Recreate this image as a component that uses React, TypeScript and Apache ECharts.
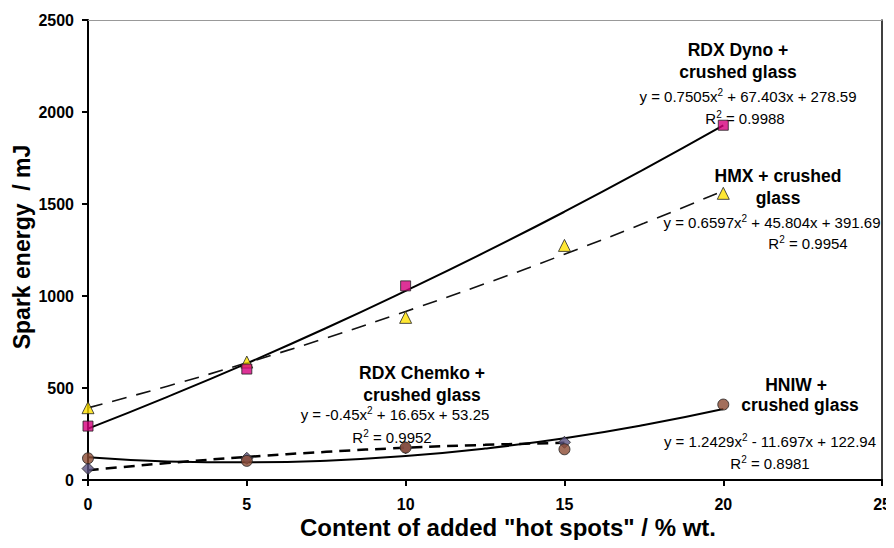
import React, { useEffect, useRef } from "react";
import * as echarts from "echarts";

// Measured points (x = content of hot spots / % wt., y = spark energy / mJ)
const dynoX = [0, 5, 10, 20];
const dynoY = [293, 603, 1055, 1928];
const hmxX = [0, 5, 10, 15, 20];
const hmxY = [393, 641, 884, 1275, 1558];
const chemkoX = [0, 5, 10, 15];
const chemkoY = [62, 118, 175, 205];
const hniwX = [0, 5, 10, 15, 20];
const hniwY = [118, 104, 176, 167, 410];

// Trend lines
const trendX = [0, 2.5, 5, 7.5, 10, 12.5, 15, 17.5, 20];
const dynoTrend = [279, 452, 634, 826, 1028, 1238, 1458, 1688, 1927];
const hmxTrend = [392, 510, 637, 772, 916, 1067, 1227, 1395, 1572];
const chemkoTrendX = [0, 2.5, 5, 7.5, 10, 12.5, 15];
const chemkoTrend = [53, 92, 125, 153, 175, 191, 202];
const hniwTrend = [123, 101, 96, 105, 130, 171, 227, 299, 386];

const xTicks = { min: 0, max: 25, interval: 5 };
const yTicks = { min: 0, max: 2500, interval: 500 };

const FONT = "'Liberation Sans', Arial, Helvetica, sans-serif";

const zip = (xs: number[], ys: number[]) => xs.map((x, i) => [x, ys[i]]);

export default function App() {
  const ref = useRef<HTMLDivElement>(null);
  useEffect(() => {
    if (!ref.current) return;
    const chart = echarts.init(ref.current, null, { renderer: "svg" });
    const title = (text: string, x: number, y: number) => ({
      type: "text",
      x,
      y,
      style: {
        text,
        font: `bold 17.5px ${FONT}`,
        fill: "#000",
        align: "center",
        verticalAlign: "middle",
      },
    });
    const eq = (text: string, x: number, y: number) => ({
      type: "text",
      x,
      y,
      style: {
        text,
        fontFamily: FONT,
        fontSize: 15,
        fill: "#000",
        align: "center",
        verticalAlign: "middle",
        rich: {
          s: { fontFamily: FONT, fontSize: 10, verticalAlign: "top", padding: [0, 0, 8, 0] },
        },
      },
    });
    const markerStyle = (color: string) => ({ color, borderColor: "#222", borderWidth: 1 });
    chart.setOption({
      animation: false,
      backgroundColor: "#fff",
      grid: { left: 88, right: 11, top: 20, bottom: 68, show: false },
      xAxis: [
        {
          type: "value",
          ...xTicks,
          axisLine: { show: true, lineStyle: { color: "#000", width: 2 } },
          axisTick: { show: true, inside: false, length: 6, lineStyle: { color: "#000", width: 2 } },
          axisLabel: { margin: 16, color: "#000", fontFamily: FONT, fontWeight: "bold", fontSize: 16 },
          splitLine: { show: false },
        },
        {
          type: "value",
          position: "top",
          ...xTicks,
          axisLine: { show: true, onZero: false, lineStyle: { color: "#999", width: 1 } },
          axisTick: { show: false },
          axisLabel: { show: false },
          splitLine: { show: false },
        },
      ],
      yAxis: [
        {
          type: "value",
          ...yTicks,
          axisLine: { show: true, lineStyle: { color: "#000", width: 2 } },
          axisTick: { show: true, inside: false, length: 6, lineStyle: { color: "#000", width: 2 } },
          axisLabel: {
            margin: 14,
            color: "#000",
            fontFamily: FONT,
            fontWeight: "bold",
            fontSize: 16,
            formatter: (v: number) => String(v),
          },
          splitLine: { show: false },
        },
        {
          type: "value",
          position: "right",
          ...yTicks,
          axisLine: { show: true, onZero: false, lineStyle: { color: "#000", width: 1.5 } },
          axisTick: { show: false },
          axisLabel: { show: false },
          splitLine: { show: false },
        },
      ],
      series: [
        {
          type: "line",
          data: zip(trendX, dynoTrend),
          smooth: true,
          symbol: "none",
          lineStyle: { color: "#000", width: 2 },
          z: 2,
        },
        {
          type: "line",
          data: zip(trendX, hmxTrend),
          smooth: true,
          symbol: "none",
          lineStyle: { color: "#111", width: 1.6, type: [15, 10] },
          z: 2,
        },
        {
          type: "line",
          data: zip(chemkoTrendX, chemkoTrend),
          smooth: true,
          symbol: "none",
          lineStyle: { color: "#000", width: 2.5, type: [11, 7] },
          z: 2,
        },
        {
          type: "line",
          data: zip(trendX, hniwTrend),
          smooth: true,
          symbol: "none",
          lineStyle: { color: "#000", width: 2 },
          z: 2,
        },
        {
          type: "scatter",
          data: zip(chemkoX, chemkoY),
          symbol: "diamond",
          symbolSize: 12,
          itemStyle: markerStyle("#5c5482"),
          z: 3,
        },
        {
          type: "scatter",
          data: zip(hniwX, hniwY),
          symbol: "circle",
          symbolSize: 11,
          itemStyle: markerStyle("#8c4b33"),
          z: 4,
        },
        {
          type: "scatter",
          data: zip(hmxX, hmxY),
          symbol: "triangle",
          symbolSize: 12,
          itemStyle: markerStyle("#ffe100"),
          z: 3,
        },
        {
          type: "scatter",
          data: zip(dynoX, dynoY),
          symbol: "rect",
          symbolSize: 10,
          itemStyle: markerStyle("#d6007d"),
          z: 4,
        },
      ],
      graphic: [
        {
          type: "text",
          x: 22,
          y: 247,
          rotation: Math.PI / 2,
          style: {
            text: "Spark energy  / mJ",
            font: `bold 23px ${FONT}`,
            fill: "#000",
            align: "center",
            verticalAlign: "middle",
          },
        },
        {
          type: "text",
          x: 508,
          y: 527,
          style: {
            text: 'Content of added "hot spots" / % wt.',
            font: `bold 24px ${FONT}`,
            fill: "#000",
            align: "center",
            verticalAlign: "middle",
          },
        },
        title("RDX Dyno +", 738, 50),
        title("crushed glass", 738, 72),
        eq("y = 0.7505x{s|2} + 67.403x + 278.59", 748, 96),
        eq("R{s|2} = 0.9988", 745, 118),
        title("HMX + crushed", 778, 176),
        title("glass", 778, 198),
        eq("y = 0.6597x{s|2} + 45.804x + 391.69", 772, 222),
        eq("R{s|2} = 0.9954", 808, 243),
        title("RDX Chemko +", 422, 373),
        title("crushed glass", 422, 395),
        eq("y = -0.45x{s|2} + 16.65x + 53.25", 395, 414),
        eq("R{s|2} = 0.9952", 392, 437),
        title("HNIW +", 796, 385),
        title("crushed glass", 800, 405),
        eq("y = 1.2429x{s|2} - 11.697x + 122.94", 770, 441),
        eq("R{s|2} = 0.8981", 770, 463),
      ],
    });
    return () => chart.dispose();
  }, []);
  return <div ref={ref} style={{ width: 894, height: 548, margin: -8 }} />;
}
